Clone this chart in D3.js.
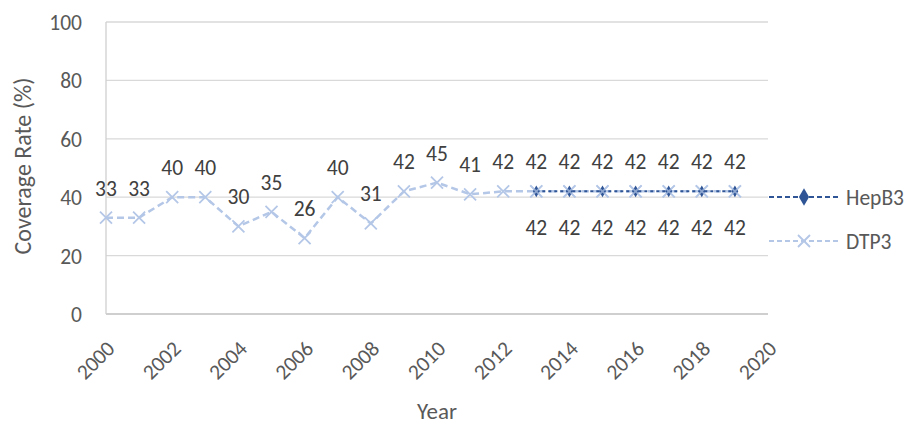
<!DOCTYPE html>
<html><head><meta charset="utf-8">
<script src="https://cdn.jsdelivr.net/npm/d3@7"></script>
<style>body{margin:0;background:#fff}text{font-family:Carlito,Lato,"Open Sans",sans-serif}</style>
</head><body><svg id="c" width="914" height="426"></svg>
<script>
const years = d3.range(2000, 2020);
const dtp3 = [33,33,40,40,30,35,26,40,31,42,45,41,42,42,42,42,42,42,42,42];
const hepYears = [2013,2014,2015,2016,2017,2018,2019];
const hepb3 = [42,42,42,42,42,42,42];
const xTicks = [2000,2002,2004,2006,2008,2010,2012,2014,2016,2018,2020];
const yTicks = [0,20,40,60,80,100];

const FS = 21.5;
const svg = d3.select("#c");
const x = d3.scaleLinear().domain([2000,2020]).range([106,768]);
const y = d3.scaleLinear().domain([0,100]).range([314,22]);

// gridlines
svg.append("g").selectAll("line").data(yTicks).join("line")
  .attr("x1",106).attr("x2",768).attr("y1",d=>y(d)).attr("y2",d=>y(d))
  .attr("stroke",d=>d===0?"#bfbfbf":"#d9d9d9").attr("stroke-width",1.3);
svg.append("line").attr("x1",106).attr("x2",106).attr("y1",y(100)).attr("y2",y(0))
  .attr("stroke","#d0d0d0").attr("stroke-width",1.3);

// y tick labels
svg.append("g").selectAll("text").data(yTicks).join("text")
  .attr("x",82).attr("y",d=>y(d)+8).attr("text-anchor","end")
  .attr("font-size",FS).attr("fill","#595959").text(d=>d);

// x tick labels
svg.append("g").selectAll("text").data(xTicks).join("text")
  .attr("transform",d=>`translate(${x(d)+10},${350}) rotate(-45)`)
  .attr("text-anchor","end").attr("font-size",FS).attr("fill","#595959").text(d=>d);

// axis titles
svg.append("text").attr("transform","translate(31,166) rotate(-90)").attr("text-anchor","middle")
  .attr("font-size",24).attr("fill","#595959").text("Coverage Rate (%)");
svg.append("text").attr("x",437).attr("y",419).attr("text-anchor","middle")
  .attr("font-size",23).attr("fill","#595959").text("Year");

const dtpColor = "#b4c7e7", hepColor = "#2f5597";
const line = d3.line().x(d=>x(d[0])).y(d=>y(d[1]));

// DTP3
const dtpData = years.map((yr,i)=>[yr,dtp3[i]]);
svg.append("path").attr("d",line(dtpData)).attr("fill","none")
  .attr("stroke",dtpColor).attr("stroke-width",2.5).attr("stroke-dasharray","7,4");
function xMark(g,cx,cy,s,color){
  g.append("path").attr("d",`M${cx-s},${cy-s}L${cx+s},${cy+s}M${cx-s},${cy+s}L${cx+s},${cy-s}`)
   .attr("stroke",color).attr("stroke-width",1.8).attr("fill","none");
}
const gd = svg.append("g");
dtpData.forEach(d=>xMark(gd,x(d[0]),y(d[1]),6,dtpColor));

// HepB3
const hepData = hepYears.map((yr,i)=>[yr,hepb3[i]]);
svg.append("path").attr("d",line(hepData)).attr("fill","none")
  .attr("stroke",hepColor).attr("stroke-width",2).attr("stroke-dasharray","3,3");
svg.append("g").selectAll("path").data(hepData).join("path")
  .attr("d",d3.symbol().type(d3.symbolDiamond).size(40))
  .attr("transform",d=>`translate(${x(d[0])},${y(d[1])})`).attr("fill",hepColor);
const gd2 = svg.append("g").attr("opacity",0.7);
dtpData.filter(d=>d[0]>=2013).forEach(d=>xMark(gd2,x(d[0]),y(d[1]),6,dtpColor));

// data labels
svg.append("g").selectAll("text").data(dtpData).join("text")
  .attr("x",d=>x(d[0])).attr("y",d=>y(d[1])-22).attr("text-anchor","middle")
  .attr("font-size",FS).attr("fill","#404040").text(d=>d[1]);
svg.append("g").selectAll("text").data(hepData).join("text")
  .attr("x",d=>x(d[0])).attr("y",d=>y(d[1])+44).attr("text-anchor","middle")
  .attr("font-size",FS).attr("fill","#404040").text(d=>d[1]);

// legend
const lg = svg.append("g");
lg.append("line").attr("x1",769).attr("x2",838).attr("y1",197).attr("y2",197)
  .attr("stroke",hepColor).attr("stroke-width",2).attr("stroke-dasharray","5,3");
lg.append("path").attr("d",d3.symbol().type(d3.symbolDiamond).size(90))
  .attr("transform","translate(804,197)").attr("fill",hepColor);
lg.append("text").attr("x",846).attr("y",205).attr("font-size",FS).attr("fill","#595959").text("HepB3");
lg.append("line").attr("x1",769).attr("x2",838).attr("y1",241).attr("y2",241)
  .attr("stroke",dtpColor).attr("stroke-width",2).attr("stroke-dasharray","5,3");
xMark(lg,804,241,6,dtpColor);
lg.append("text").attr("x",846).attr("y",249).attr("font-size",FS).attr("fill","#595959").text("DTP3");
</script></body></html>
